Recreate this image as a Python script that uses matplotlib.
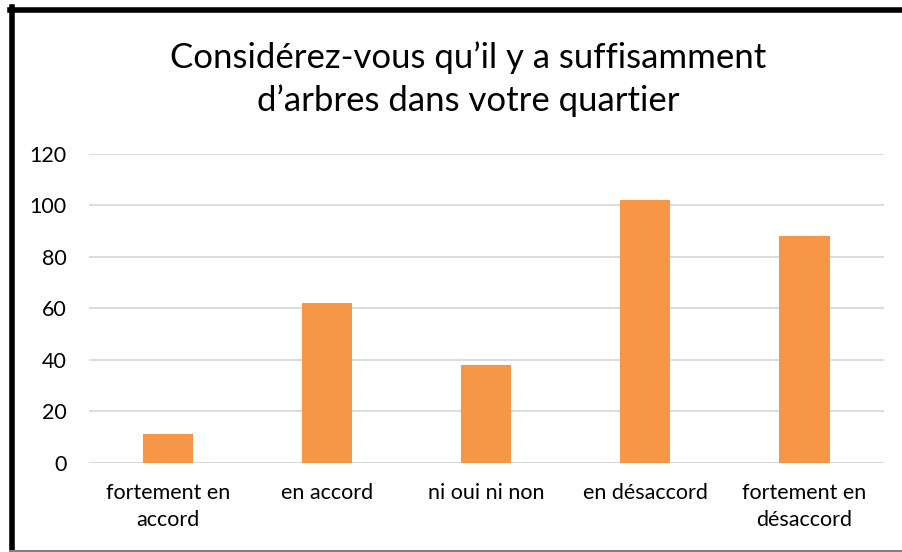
import numpy as np
import matplotlib
matplotlib.use("Agg")
import matplotlib.pyplot as plt
from matplotlib.lines import Line2D

categories = ["fortement en\naccord", "en accord", "ni oui ni non",
              "en désaccord", "fortement en\ndésaccord"]
counts = [11, 62, 38, 102, 88]
yticks = [0, 20, 40, 60, 80, 100, 120]
title = "Considérez-vous qu\u2019il y a suffisamment\nd\u2019arbres dans votre quartier"

plt.rcParams["font.family"] = ["Lato", "DejaVu Sans"]

fig = plt.figure(figsize=(9.03, 5.52), dpi=100)
ax = fig.add_axes([0.0982, 0.1618, 0.8808, 0.5592])

x = np.arange(len(categories))
ax.bar(x, counts, width=0.315, color="#F79646", zorder=3)

ax.set_xlim(-0.5, len(categories) - 0.5)
ax.set_ylim(0, 120)
ax.set_yticks(yticks)
ax.set_yticklabels([str(t) for t in yticks], fontsize=15.5)
ax.set_xticks(x)
ax.set_xticklabels(categories, fontsize=15.5, linespacing=1.45)
ax.tick_params(axis="both", length=0, colors="black")
ax.tick_params(axis="y", pad=16)
ax.tick_params(axis="x", pad=14.5)
ax.grid(axis="y", color="#D9D9D9", linewidth=1.3, zorder=0)
for s in ax.spines.values():
    s.set_visible(False)
ax.axhline(0, color="#D9D9D9", linewidth=1.3, zorder=2)

fig.text(0.518, 0.857, title, ha="center", va="center", fontsize=25,
         linespacing=1.36)

# frame around the chart: thick black top and left, thin gray bottom
fig.add_artist(Line2D([12.5 / 903, 12.5 / 903], [0, 1 - 7 / 552],
                      transform=fig.transFigure, color="black", linewidth=4))
fig.add_artist(Line2D([10 / 903, 1], [1 - 9.5 / 552, 1 - 9.5 / 552],
                      transform=fig.transFigure, color="black", linewidth=4))
fig.add_artist(Line2D([10 / 903, 1], [1.5 / 552, 1.5 / 552],
                      transform=fig.transFigure, color="#808080", linewidth=1.5))

fig.savefig("out.png", dpi=100)
